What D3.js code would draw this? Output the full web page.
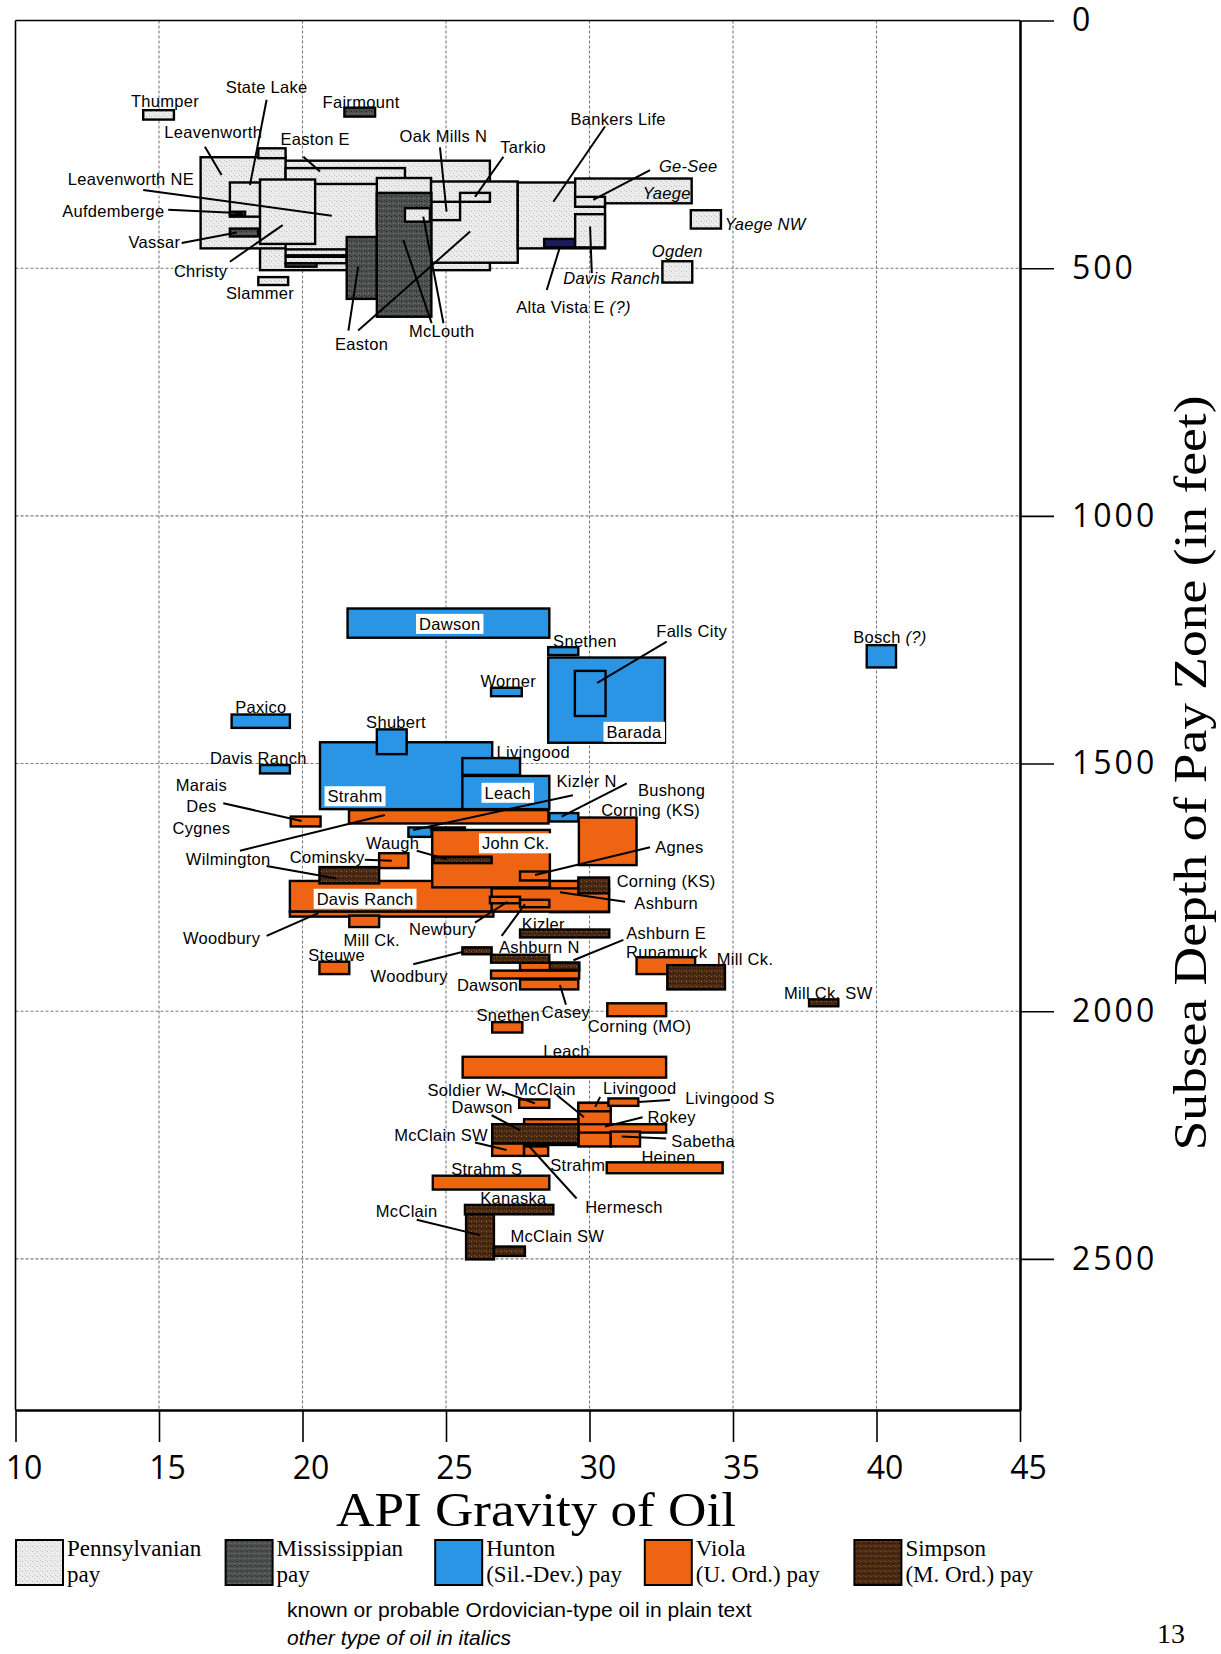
<!DOCTYPE html>
<html>
<head>
<meta charset="utf-8">
<script src="https://cdn.jsdelivr.net/npm/d3@7"></script>
<style>
  body { margin: 0; background: #fff; }
</style>
</head>
<body>
<div class="canvas"></div>
<script>
const width = 1221
const height = 1654

// pay zones, legend order
const payZones = ['penn', 'miss', 'hunton', 'viola', 'simpson']
const payLine1 = ['Pennsylvanian', 'Mississippian', 'Hunton', 'Viola', 'Simpson']
const payLine2 = ['pay', 'pay', '(Sil.-Dev.) pay', '(U. Ord.) pay', '(M. Ord.) pay']

const apiTicks = [10, 15, 20, 25, 30, 35, 40, 45]
const depthTicks = [0, 500, 1000, 1500, 2000, 2500]

// fields: [name, pay, api low, api high, depth top, depth bottom]  (drawn in this order)
const upperFields = [
  ['Leavenworth NE', 'penn', 18.52, 26.53, 283, 504],
  ['Leavenworth', 'penn', 16.45, 19.41, 276, 460],
  ['', 'penn', 18.46, 19.41, 258, 278],
  ['Easton E', 'penn', 19.41, 23.57, 298, 330],
  ['', 'penn', 22.59, 24.48, 318, 420],
  ['Easton', 'penn', 24.48, 27.5, 325, 489],
  ['Oak Mills N', 'penn', 24.48, 25.49, 366, 403],
  ['Tarkio', 'penn', 25.49, 26.53, 348, 366],
  ['State Lake', 'penn', 17.47, 18.52, 327, 396],
  ['Christy', 'penn', 18.52, 20.44, 321, 451],
  ['Aufdemberge', 'penn', 17.47, 18.0, 386, 393],
  ['', 'penn', 19.41, 21.54, 462, 474],
  ['', 'penn', 19.41, 21.54, 477, 490],
  ['', 'miss', 19.41, 20.49, 490, 497],
  ['Vassar', 'miss', 17.47, 18.46, 420, 436],
  ['Easton', 'miss', 21.54, 22.59, 437, 562],
  ['McLouth', 'miss', 22.59, 24.49, 348, 598],
  ['McLouth', 'penn', 23.57, 24.44, 379, 406],
  ['Bankers Life', 'penn', 27.5, 30.54, 327, 460],
  ['Alta Vista E', 'navy', 28.42, 29.5, 441, 458],
  ['Yaege', 'penn', 29.5, 33.56, 319, 369],
  ['Ge-See', 'penn', 29.5, 30.54, 356, 376],
  ['Davis Ranch', 'penn', 29.5, 30.54, 391, 458],
  ['Yaege NW', 'penn', 33.53, 34.58, 383, 420],
  ['Ogden', 'penn', 32.54, 33.58, 486, 529],
  ['Thumper', 'penn', 14.45, 15.52, 181, 200],
  ['Fairmount', 'miss', 21.46, 22.53, 176, 194],
  ['Slammer', 'penn', 18.46, 19.5, 518, 534]
]

const huntonFields = [
  ['Dawson', 'hunton', 21.57, 28.6, 1187, 1246],
  ['Snethen', 'hunton', 28.56, 29.61, 1265, 1281],
  ['Barada', 'hunton', 28.56, 32.63, 1286, 1458],
  ['Falls City', 'hunton', 29.49, 30.56, 1313, 1404],
  ['Worner', 'hunton', 26.57, 27.64, 1347, 1364],
  ['Paxico', 'hunton', 17.53, 19.56, 1401, 1428],
  ['Strahm', 'hunton', 20.61, 26.61, 1457, 1592],
  ['Shubert', 'hunton', 22.59, 23.63, 1431, 1481],
  ['Livingood', 'hunton', 25.57, 27.58, 1489, 1523],
  ['Leach', 'hunton', 25.57, 28.6, 1525, 1592],
  ['Davis Ranch', 'hunton', 18.52, 19.56, 1503, 1520],
  ['Bushong', 'hunton', 28.6, 29.61, 1600, 1617],
  ['Kizler N', 'hunton', 23.69, 24.5, 1629, 1648],
  ['Bosch', 'hunton', 39.66, 40.68, 1261, 1306]
]

const violaFields = [
  ['Wilmington', 'viola', 21.62, 28.57, 1594, 1621],
  ['Marais Des Cygnes', 'viola', 19.59, 20.63, 1607, 1627],
  ['Corning (KS)', 'viola', 29.63, 31.64, 1609, 1705],
  ['Cominsky', 'viola', 22.67, 23.69, 1681, 1711],
  ['Davis Ranch', 'viola', 19.56, 26.65, 1737, 1799],
  ['Woodbury', 'viola', 19.56, 26.65, 1799, 1809],
  ['John Ck.', 'viola', 24.52, 28.62, 1634, 1750],
  ['Agnes', 'viola', 27.58, 28.6, 1718, 1736],
  ['Ashburn', 'viola', 28.62, 30.68, 1737, 1800],
  ['Ashburn', 'viola', 26.59, 30.68, 1752, 1799],
  ['Newbury', 'viola', 26.53, 27.58, 1769, 1782],
  ['Ashburn N', 'viola', 27.58, 28.6, 1775, 1790],
  ['Mill Ck.', 'viola', 21.63, 22.67, 1807, 1830],
  ['Steuwe', 'viola', 20.59, 21.63, 1900, 1925],
  ['Ashburn E', 'viola', 27.58, 29.64, 1902, 1917],
  ['Dawson', 'viola', 26.57, 29.64, 1918, 1934],
  ['Dawson', 'viola', 27.58, 29.61, 1936, 1956],
  ['Runamuck', 'viola', 31.64, 33.68, 1891, 1925],
  ['Corning (MO)', 'viola', 30.62, 32.67, 1984, 2010],
  ['Snethen', 'viola', 26.61, 27.66, 2022, 2043],
  ['Leach', 'viola', 25.58, 32.67, 2092, 2134],
  ['Soldier W.', 'viola', 27.55, 28.6, 2178, 2195],
  ['McClain', 'viola', 29.61, 30.74, 2185, 2273],
  ['Livingood', 'viola', 29.61, 30.74, 2185, 2202],
  ['Livingood S', 'viola', 30.66, 31.7, 2176, 2191],
  ['Rokey', 'viola', 29.61, 32.67, 2228, 2245],
  ['Sabetha', 'viola', 30.74, 31.76, 2243, 2273],
  ['Hermesch', 'viola', 27.72, 29.61, 2218, 2270],
  ['McClain SW', 'viola', 26.61, 27.72, 2267, 2292],
  ['Strahm', 'viola', 27.72, 28.56, 2273, 2292],
  ['Heinen', 'viola', 30.6, 34.64, 2305, 2327],
  ['Strahm S', 'viola', 24.54, 28.6, 2332, 2360]
]

const simpsonFields = [
  ['', 'simpson', 24.5, 25.66, 1629, 1634],
  ['Waugh', 'simpson', 24.56, 26.59, 1688, 1701],
  ['Wilmington', 'simpson', 20.59, 22.67, 1709, 1742],
  ['Corning (KS)', 'simpson', 29.61, 30.68, 1730, 1762],
  ['Kizler', 'simpson', 27.58, 30.69, 1835, 1851],
  ['Woodbury', 'simpson', 25.57, 26.59, 1871, 1885],
  ['Ashburn N', 'simpson', 26.57, 28.6, 1886, 1902],
  ['Ashburn E', 'simpson', 28.62, 29.64, 1902, 1917],
  ['Mill Ck.', 'simpson', 32.71, 34.72, 1907, 1956],
  ['Mill Ck. SW', 'simpson', 37.65, 38.67, 1976, 1990],
  ['Dawson', 'simpson', 26.61, 29.61, 2228, 2266],
  ['Kanaska', 'simpson', 25.66, 28.74, 2391, 2410],
  ['McClain', 'simpson', 25.7, 26.67, 2410, 2501],
  ['McClain SW', 'simpson', 26.67, 27.75, 2475, 2494]
]

// labels: [text, api, depth, anchor, style, italic suffix]
const fieldLabels = [
  ['Thumper', 15.21, 162, 'middle', 'plain'],
  ['State Lake', 18.75, 135, 'middle', 'plain'],
  ['Fairmount', 22.04, 164, 'middle', 'plain'],
  ['Leavenworth', 16.89, 226, 'middle', 'plain'],
  ['Easton E', 20.44, 240, 'middle', 'plain'],
  ['Oak Mills N', 24.91, 233, 'middle', 'plain'],
  ['Tarkio', 27.69, 256, 'middle', 'plain'],
  ['Leavenworth NE', 14.02, 320, 'middle', 'plain'],
  ['Aufdemberge', 13.41, 385, 'middle', 'plain'],
  ['Vassar', 14.84, 448, 'middle', 'plain'],
  ['Christy', 16.45, 506, 'middle', 'plain'],
  ['Slammer', 18.52, 551, 'middle', 'plain'],
  ['Easton', 22.06, 653, 'middle', 'plain'],
  ['McLouth', 24.85, 626, 'middle', 'plain'],
  ['Bankers Life', 31.0, 199, 'middle', 'plain'],
  ['Ge-See', 33.44, 294, 'middle', 'italic'],
  ['Yaege', 32.69, 348, 'middle', 'italic'],
  ['Yaege NW', 36.12, 411, 'middle', 'italic'],
  ['Ogden', 33.06, 465, 'middle', 'italic'],
  ['Davis Ranch', 30.77, 520, 'middle', 'italic'],
  ['Alta Vista E', 29.44, 579, 'middle', 'plain', ' (?)'],
  ['Dawson', 25.13, 1218, 'middle', 'boxed'],
  ['Snethen', 29.84, 1252, 'middle', 'plain'],
  ['Falls City', 33.56, 1232, 'middle', 'plain'],
  ['Barada', 31.55, 1436, 'middle', 'boxed'],
  ['Worner', 27.17, 1333, 'middle', 'plain'],
  ['Paxico', 18.55, 1386, 'middle', 'plain'],
  ['Shubert', 23.26, 1417, 'middle', 'plain'],
  ['Strahm', 21.83, 1566, 'middle', 'boxed'],
  ['Livingood', 28.04, 1476, 'middle', 'plain'],
  ['Leach', 27.15, 1559, 'middle', 'boxed'],
  ['Davis Ranch', 18.46, 1489, 'middle', 'plain'],
  ['Kizler N', 29.9, 1535, 'middle', 'plain'],
  ['Bushong', 32.86, 1553, 'middle', 'plain'],
  ['Corning (KS)', 32.13, 1594, 'middle', 'plain'],
  ['Bosch', 39.19, 1245, 'start', 'plain', ' (?)'],
  ['Marais', 16.48, 1543, 'middle', 'plain'],
  ['Des', 16.48, 1586, 'middle', 'plain'],
  ['Cygnes', 16.48, 1630, 'middle', 'plain'],
  ['Wilmington', 17.41, 1693, 'middle', 'plain'],
  ['John Ck.', 27.43, 1661, 'middle', 'boxed'],
  ['Waugh', 23.14, 1660, 'middle', 'plain'],
  ['Cominsky', 20.86, 1689, 'middle', 'plain'],
  ['Agnes', 33.13, 1668, 'middle', 'plain'],
  ['Corning (KS)', 32.67, 1737, 'middle', 'plain'],
  ['Ashburn', 32.67, 1782, 'middle', 'plain'],
  ['Davis Ranch', 22.18, 1773, 'middle', 'boxed'],
  ['Woodbury', 17.18, 1852, 'middle', 'plain'],
  ['Mill Ck.', 22.41, 1856, 'middle', 'plain'],
  ['Steuwe', 21.19, 1887, 'middle', 'plain'],
  ['Newbury', 24.88, 1833, 'middle', 'plain'],
  ['Kizler', 28.39, 1823, 'middle', 'plain'],
  ['Ashburn N', 28.25, 1871, 'middle', 'plain'],
  ['Woodbury', 23.72, 1928, 'middle', 'plain'],
  ['Ashburn E', 32.67, 1842, 'middle', 'plain'],
  ['Runamuck', 32.69, 1880, 'middle', 'plain'],
  ['Mill Ck.', 35.42, 1894, 'middle', 'plain'],
  ['Dawson', 26.45, 1947, 'middle', 'plain'],
  ['Casey', 29.18, 2002, 'middle', 'plain'],
  ['Mill Ck. SW', 38.32, 1964, 'middle', 'plain'],
  ['Snethen', 27.17, 2008, 'middle', 'plain'],
  ['Corning (MO)', 31.74, 2030, 'middle', 'plain'],
  ['Leach', 29.2, 2080, 'middle', 'plain'],
  ['Soldier W.', 25.72, 2159, 'middle', 'plain'],
  ['McClain', 28.45, 2158, 'middle', 'plain'],
  ['Livingood', 31.75, 2154, 'middle', 'plain'],
  ['Livingood S', 34.9, 2175, 'middle', 'plain'],
  ['Dawson', 26.26, 2194, 'middle', 'plain'],
  ['Rokey', 32.86, 2213, 'middle', 'plain'],
  ['McClain SW', 24.83, 2250, 'middle', 'plain'],
  ['Sabetha', 33.96, 2262, 'middle', 'plain'],
  ['Heinen', 32.75, 2295, 'middle', 'plain'],
  ['Strahm', 29.59, 2310, 'middle', 'plain'],
  ['Strahm S', 26.42, 2319, 'middle', 'plain'],
  ['Hermesch', 31.2, 2395, 'middle', 'plain'],
  ['Kanaska', 27.35, 2378, 'middle', 'plain'],
  ['McClain', 23.63, 2403, 'middle', 'plain'],
  ['McClain SW', 28.88, 2453, 'middle', 'plain']
]

// leader lines: [api from, depth from, api to, depth to]
const leaders = [
  [18.75, 160, 18.17, 332], [16.6, 255, 17.18, 312], [20.03, 275, 20.61, 305],
  [24.79, 256, 25.02, 386], [27.0, 275, 26.01, 356], [14.45, 342, 21.02, 394],
  [15.32, 382, 17.94, 389], [15.79, 449, 17.71, 428], [17.47, 487, 19.31, 413],
  [21.6, 626, 21.94, 497], [21.94, 626, 25.84, 426], [24.5, 611, 23.51, 443],
  [24.91, 611, 24.21, 396], [30.54, 214, 28.74, 366], [32.11, 302, 30.13, 362],
  [30.08, 510, 30.02, 416], [28.51, 544, 28.97, 457],
  [32.69, 1254, 30.27, 1337], [29.42, 1564, 23.86, 1634], [31.3, 1540, 29.03, 1607],
  [17.24, 1580, 19.97, 1616], [17.82, 1676, 22.87, 1604], [18.75, 1707, 21.19, 1732],
  [23.98, 1676, 25.02, 1693], [22.17, 1694, 23.11, 1696], [32.11, 1669, 28.1, 1725],
  [31.24, 1779, 28.97, 1760], [18.75, 1848, 20.55, 1802], [26.01, 1821, 27.14, 1779],
  [26.94, 1848, 27.75, 1784], [23.86, 1905, 25.6, 1880], [31.18, 1856, 29.44, 1897],
  [29.18, 1987, 28.97, 1947], [26.94, 2162, 28.1, 2186], [28.86, 2169, 29.81, 2214],
  [30.37, 2173, 30.2, 2193], [32.8, 2179, 31.7, 2183], [26.59, 2210, 27.58, 2240],
  [31.85, 2214, 30.54, 2233], [26.01, 2265, 27.11, 2280], [32.67, 2257, 31.12, 2253],
  [29.55, 2378, 27.81, 2267], [23.98, 2421, 26.18, 2452]
]

const fills = {
  penn: 'url(#st-penn)',
  miss: 'url(#st-miss)',
  hunton: '#2a95e4',
  viola: '#ee6412',
  simpson: 'url(#st-simpson)',
  navy: '#1d1a5a'
}
const labelFont = 'Liberation Sans, Arial, sans-serif'
const serifFont = 'Liberation Serif, DejaVu Serif, serif'

const svg = d3.select('.canvas')
  .append('svg')
  .attr('width', width)
  .attr('height', height)
  .style('display', 'block')

const defs = svg.append('defs')

// stipple patterns
function stipple(id, base, dots) {
  const p = defs.append('pattern')
    .attr('id', id)
    .attr('width', 5).attr('height', 5)
    .attr('patternUnits', 'userSpaceOnUse')
  p.append('rect').attr('width', 5).attr('height', 5).attr('fill', base)
  dots.forEach(d => {
    p.append('rect').attr('x', d[0]).attr('y', d[1]).attr('width', 1).attr('height', 1).attr('fill', d[2])
  })
}
stipple('st-penn', '#ececec', [[1, 1, '#b8b8b8'], [3, 3, '#cfcfcf'], [4, 0, '#c4c4c4']])
stipple('st-miss', '#4d504f', [[1, 1, '#1e1e1e'], [3, 3, '#7a7a7a'], [4, 0, '#2a2a2a'], [0, 3, '#666']])
stipple('st-simpson', '#4a2a14', [[1, 1, '#a0621c'], [3, 3, '#24110a'], [4, 0, '#7c4a18'], [0, 3, '#2a150a']])

const x = d3.scaleLinear().domain([10, 45]).range([15.5, 1020])
const y = d3.scaleLinear().domain([0, 2805]).range([20.5, 1410])

// grid
const grid = svg.append('g')
  .attr('stroke', '#7a7a7a')
  .attr('stroke-width', 1.1)
  .attr('stroke-dasharray', '3,2')

grid.selectAll('.vgrid')
  .data(apiTicks.slice(1, -1))
  .join('line')
  .attr('class', 'vgrid')
  .attr('x1', d => x(d)).attr('x2', d => x(d))
  .attr('y1', y(0)).attr('y2', y(2805))

grid.selectAll('.hgrid')
  .data(depthTicks.slice(1))
  .join('line')
  .attr('class', 'hgrid')
  .attr('x1', x(10)).attr('x2', x(45))
  .attr('y1', d => y(d)).attr('y2', d => y(d))

// frame
svg.append('line')
  .attr('x1', x(10)).attr('x2', x(10))
  .attr('y1', y(0)).attr('y2', y(2805))
  .attr('stroke', '#000').attr('stroke-width', 1.6)
svg.append('line')
  .attr('x1', x(10)).attr('x2', x(45))
  .attr('y1', y(0)).attr('y2', y(0))
  .attr('stroke', '#000').attr('stroke-width', 1.6)

// boxes
const allFields = upperFields.concat(huntonFields, violaFields, simpsonFields)

svg.append('g')
  .selectAll('rect')
  .data(allFields)
  .join('rect')
  .attr('x', d => x(d[2]))
  .attr('y', d => y(d[4]))
  .attr('width', d => x(d[3]) - x(d[2]))
  .attr('height', d => y(d[5]) - y(d[4]))
  .attr('fill', d => fills[d[1]])
  .attr('stroke', '#000')
  .attr('stroke-width', 2.4)

// leader lines
svg.append('g')
  .selectAll('line')
  .data(leaders)
  .join('line')
  .attr('x1', d => x(d[0])).attr('y1', d => y(d[1]))
  .attr('x2', d => x(d[2])).attr('y2', d => y(d[3]))
  .attr('stroke', '#000')
  .attr('stroke-width', 2)

// labels
const labelG = svg.append('g')
fieldLabels.forEach(d => {
  const t = labelG.append('text')
    .attr('x', x(d[1]))
    .attr('y', y(d[2]))
    .attr('text-anchor', d[3])
    .attr('dominant-baseline', 'central')
    .attr('font-family', labelFont)
    .attr('font-size', 16.5)
    .attr('letter-spacing', 0.3)
    .attr('fill', '#000')
  t.append('tspan')
    .attr('font-style', d[4] === 'italic' ? 'italic' : 'normal')
    .text(d[0])
  if (d[5]) {
    t.append('tspan').attr('font-style', 'italic').text(d[5])
  }
  if (d[4] === 'boxed') {
    const b = t.node().getBBox()
    labelG.insert('rect', () => t.node())
      .attr('x', b.x - 3).attr('y', b.y - 1)
      .attr('width', b.width + 6).attr('height', b.height + 2)
      .attr('fill', '#fff')
  }
})

// right axis
const yAxis = svg.append('g')
  .attr('transform', `translate(${x(45)},0)`)
  .call(d3.axisRight(y).tickValues(depthTicks).tickFormat(d3.format('d'))
    .tickSize(34).tickSizeOuter(0).tickPadding(18))
yAxis.select('.domain').attr('stroke-width', 2.6)
yAxis.selectAll('.tick line').attr('stroke-width', 1.6)
yAxis.selectAll('.tick text')
  .attr('font-family', 'Open Sans, sans-serif')
  .attr('font-size', 32)
  .attr('letter-spacing', 3)
  .attr('fill', '#000')

// bottom axis
const xAxis = svg.append('g')
  .attr('transform', `translate(0,${y(2805)})`)
  .call(d3.axisBottom(x).tickValues(apiTicks).tickSize(32).tickSizeOuter(0).tickPadding(14))
xAxis.select('.domain').attr('stroke-width', 2.6)
xAxis.selectAll('.tick line').attr('stroke-width', 1.6)
xAxis.selectAll('.tick text')
  .attr('font-family', 'Open Sans, sans-serif')
  .attr('font-size', 32)
  .attr('dx', 8)
  .attr('fill', '#000')

// axis titles
svg.append('text')
  .attr('x', 536).attr('y', 1526)
  .attr('text-anchor', 'middle')
  .attr('font-family', serifFont)
  .attr('font-size', 48)
  .attr('textLength', 400)
  .attr('lengthAdjust', 'spacingAndGlyphs')
  .text('API Gravity of Oil')

svg.append('text')
  .attr('transform', 'translate(1206,773) rotate(-90)')
  .attr('text-anchor', 'middle')
  .attr('font-family', serifFont)
  .attr('font-size', 46)
  .attr('textLength', 755)
  .attr('lengthAdjust', 'spacingAndGlyphs')
  .text('Subsea Depth of Pay Zone (in feet)')

// legend
const legend = svg.append('g')
  .selectAll('g')
  .data(payZones)
  .join('g')
  .attr('transform', (d, i) => `translate(${16 + i * 209.6},1540)`)

legend.append('rect')
  .attr('width', 47).attr('height', 45)
  .attr('fill', d => fills[d])
  .attr('stroke', '#000')
  .attr('stroke-width', 2)

legend.append('text')
  .attr('x', 51).attr('y', 16)
  .attr('font-family', serifFont)
  .attr('font-size', 23)
  .text((d, i) => payLine1[i])

legend.append('text')
  .attr('x', 51).attr('y', 42)
  .attr('font-family', serifFont)
  .attr('font-size', 23)
  .text((d, i) => payLine2[i])

// notes
svg.append('text')
  .attr('x', 287).attr('y', 1617)
  .attr('font-family', labelFont)
  .attr('font-size', 21)
  .text('known or probable Ordovician-type oil in plain text')

svg.append('text')
  .attr('x', 287).attr('y', 1645)
  .attr('font-family', labelFont)
  .attr('font-size', 21)
  .attr('font-style', 'italic')
  .text('other type of oil in italics')

svg.append('text')
  .attr('x', 1171).attr('y', 1643)
  .attr('text-anchor', 'middle')
  .attr('font-family', serifFont)
  .attr('font-size', 28)
  .text('13')
</script>
</body>
</html>
